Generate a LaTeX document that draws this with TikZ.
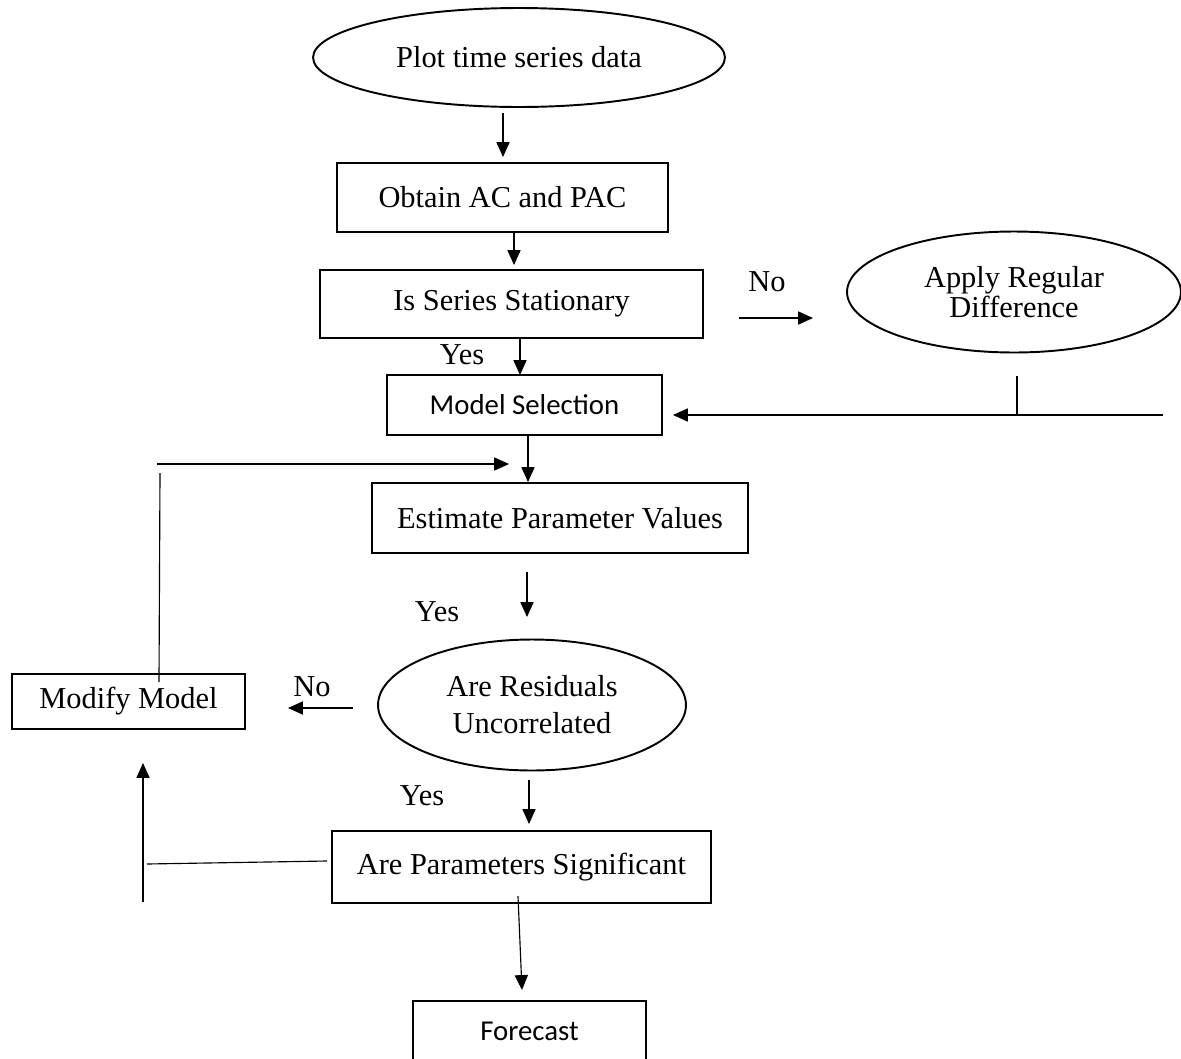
\documentclass[tikz,border=0pt]{standalone}
\usepackage{fontspec}
\setmainfont{Liberation Serif}
\newfontfamily\calfont{Carlito}
\usetikzlibrary{shapes.geometric,arrows.meta}

\tikzset{
  box/.style={draw,rectangle,line width=1.5pt,inner sep=0pt},
  oval/.style={draw,ellipse,line width=1.1pt,inner sep=0pt,align=center},
  lbl/.style={inner sep=0pt},
  arr/.style={line width=0.65pt,-{Triangle[length=8.5pt,width=7.5pt]}},
  ln/.style={line width=0.65pt}
}

\begin{document}
\begin{tikzpicture}
  [x=0.02cm,y=-0.02cm,every node/.style={font=\fontsize{17.3}{20}\selectfont}]
  \useasboundingbox (0,0) rectangle (1181,1059);

  \node[oval,minimum width=8.24cm,minimum height=1.98cm] (plot) at (519,57.5) {Plot time series data};
  \node[box,minimum width=6.62cm,minimum height=1.38cm] (acpac) at (502.5,197.5) {Obtain AC and PAC};
  \node[box,minimum width=7.66cm,minimum height=1.36cm] (stat) at (511.5,304) {Is Series Stationary};
  \node[oval,minimum width=6.68cm,minimum height=2.42cm,font=\fontsize{17.3}{17.5}\selectfont] (diff) at (1014,292) {Apply Regular\\Difference};
  \node[box,minimum width=5.5cm,minimum height=1.2cm,font=\calfont\fontsize{16.4}{20}\selectfont] (select) at (524.5,405) {Model Selection};
  \node[box,minimum width=7.52cm,minimum height=1.4cm] (estim) at (560,518) {Estimate Parameter Values};
  \node[oval,minimum width=6.16cm,minimum height=2.62cm,font=\fontsize{17.3}{21}\selectfont] (resid) at (532,705) {Are Residuals\\Uncorrelated};
  \node[box,minimum width=4.66cm,minimum height=1.1cm] (modify) at (128.5,701.5) {Modify Model};
  \node[box,minimum width=7.58cm,minimum height=1.44cm] (signif) at (521.5,867) {Are Parameters Significant};
  \node[box,minimum width=4.66cm,minimum height=1.2cm,font=\calfont\fontsize{16.4}{20}\selectfont] (fcast) at (529.5,1031) {Forecast};

  % labels
  \node[lbl] (no1)  at (767,282) {No};
  \node[lbl] (yes1) at (462,355) {Yes};
  \node[lbl] (yes2) at (437,612) {Yes};
  \node[lbl] (no2)  at (312,687) {No};
  \node[lbl] (yes3) at (422,796) {Yes};

  % arrow ends
  \coordinate (s1) at (503,113);  \coordinate (e1) at (503,157);
  \coordinate (s2) at (514,232);  \coordinate (e2) at (514,265);
  \coordinate (s3) at (739,318);  \coordinate (e3) at (813,318);
  \coordinate (s4) at (520,338);  \coordinate (e4) at (520,375);
  \coordinate (s5) at (1163,415); \coordinate (e5) at (673,415);
  \coordinate (s6) at (528,435);  \coordinate (e6) at (528,482);
  \coordinate (s7) at (527,572);  \coordinate (e7) at (527,617);
  \coordinate (s8) at (353,708);  \coordinate (e8) at (288,708);
  \coordinate (s9) at (529,780);  \coordinate (e9) at (529,824);
  \coordinate (s10) at (518,896); \coordinate (e10) at (522,990);
  \coordinate (s11) at (157,464); \coordinate (e11) at (509,464);
  \coordinate (s12) at (143,902); \coordinate (e12) at (143,763);

  \foreach \from/\to in {s1/e1,s2/e2,s3/e3,s4/e4,s5/e5,s6/e6,s7/e7,s8/e8,s9/e9,s10/e10,s11/e11,s12/e12}
    \draw[arr] (\from) -- (\to);

  % plain lines
  \coordinate (d1) at (1017,376); \coordinate (d2) at (1017,416);
  \coordinate (m1) at (159,682);  \coordinate (m2) at (160,473);
  \coordinate (p1) at (327,861);  \coordinate (p2) at (147,864);
  \foreach \from/\to in {d1/d2,m1/m2,p1/p2}
    \draw[ln] (\from) -- (\to);

\end{tikzpicture}
\end{document}
